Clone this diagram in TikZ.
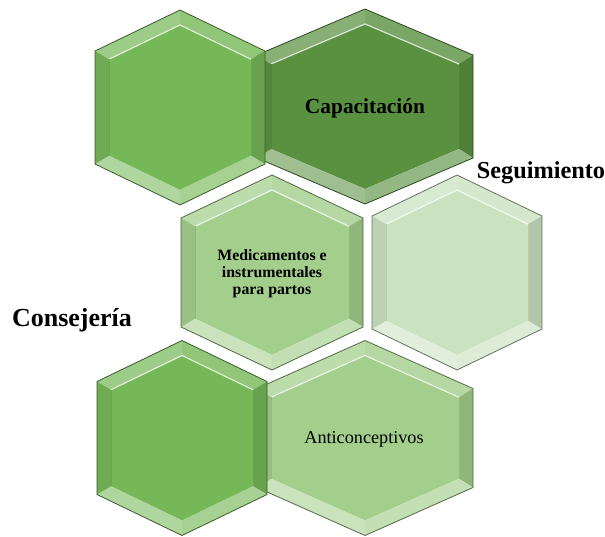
\documentclass[tikz,border=0pt]{standalone}
\usepackage{fontspec}
\setmainfont{Liberation Serif}
\usepackage{tikz}
\usetikzlibrary{positioning,calc}
\definecolor{hexmid}{RGB}{118,184,88}
\definecolor{hexdark}{RGB}{90,145,64}
\definecolor{hexlight}{RGB}{163,206,140}
\definecolor{hexpale}{RGB}{202,226,192}

% bevelled hexagon: centre, half width, rise of the top edges, colour
\newcommand{\hexcell}[4]{%
  \begin{scope}[shift={#1}]
    \pgfmathsetmacro{\hexiw}{#2-14}
    \pgfmathsetmacro{\hexir}{#3*(#2-14)/#2}
    \coordinate (t) at (0,-97.5);
    \coordinate (ur) at (#2,-97.5+#3);
    \coordinate (lr) at (#2,97.5-#3);
    \coordinate (b) at (0,97.5);
    \coordinate (ll) at (-#2,97.5-#3);
    \coordinate (ul) at (-#2,-97.5+#3);
    \coordinate (it) at (0,-82.5);
    \coordinate (iur) at (\hexiw,-82.5+\hexir);
    \coordinate (ilr) at (\hexiw,82.5-\hexir);
    \coordinate (ib) at (0,82.5);
    \coordinate (ill) at (-\hexiw,82.5-\hexir);
    \coordinate (iul) at (-\hexiw,-82.5+\hexir);
    \fill[#4] (it) -- (iur) -- (ilr) -- (ib) -- (ill) -- (iul) -- cycle;
    \fill[#4!72!white] (ul) -- (t) -- (it) -- (iul) -- cycle;
    \fill[#4!80!white] (t) -- (ur) -- (iur) -- (it) -- cycle;
    \fill[#4!88!black] (ur) -- (lr) -- (ilr) -- (iur) -- cycle;
    \fill[#4!65!white] (lr) -- (b) -- (ib) -- (ilr) -- cycle;
    \fill[#4!58!white] (b) -- (ll) -- (ill) -- (ib) -- cycle;
    \fill[#4!93!black] (ll) -- (ul) -- (iul) -- (ill) -- cycle;
    \draw[white, opacity=0.7, line width=1.2pt] (iul) -- (it) -- (iur);
    \draw[#4!90!black, line width=0.6pt] (ill) -- (iul) (iur) -- (ilr);
    \draw[#4!50!black, line width=0.8pt, line join=miter]
      (t) -- (ur) -- (lr) -- (b) -- (ll) -- (ul) -- cycle;
  \end{scope}}

\begin{document}
\begin{tikzpicture}[x=1pt,y=-1pt]
  \tikzstyle{lbl}=[inner sep=0pt, align=center, text=black]
  \useasboundingbox (0,0) rectangle (605,536);
  % top row
  \hexcell{(365,106.5)}{108}{46}{hexdark}
  \hexcell{(180,107.5)}{85}{41}{hexmid}
  % middle row
  \hexcell{(272,272.5)}{91}{43}{hexlight}
  \hexcell{(457,272.5)}{85}{41}{hexpale}
  % bottom row
  \hexcell{(365,438)}{108}{48}{hexlight}
  \hexcell{(182,438)}{85}{41}{hexmid}
  % labels
  \node[lbl, anchor=base, font=\fontsize{21.4}{24}\selectfont\bfseries] (cap) at (365,113) {Capacitación};
  \node[lbl, anchor=base, font=\fontsize{24.3}{28}\selectfont\bfseries] (seg) at (541,178) {Seguimiento};
  \node[lbl, font=\fontsize{15.8}{16.7}\selectfont\bfseries] (med) at (272,273.5) {Medicamentos e\\instrumentales\\para partos};
  \node[lbl, anchor=base, font=\fontsize{26}{30}\selectfont\bfseries] (cons) at (72,326) {Consejería};
  \node[lbl, anchor=base, font=\fontsize{18.2}{21}\selectfont] (anti) at (364,443) {Anticonceptivos};
\end{tikzpicture}
\end{document}
